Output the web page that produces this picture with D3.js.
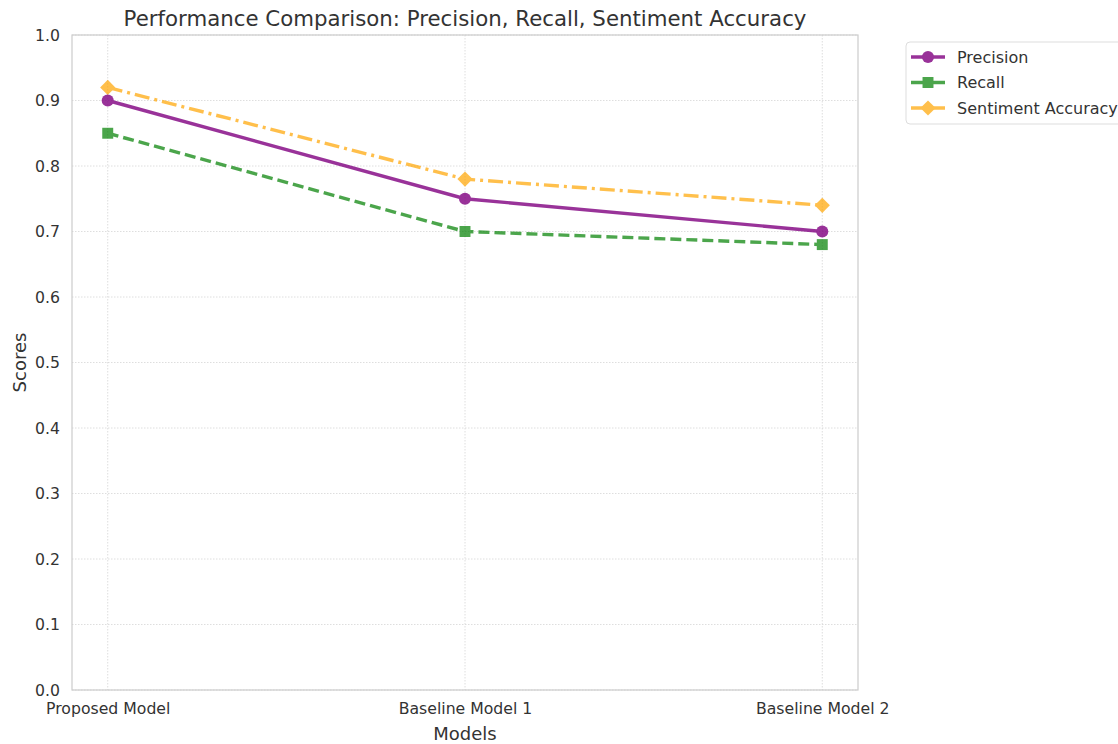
<!DOCTYPE html>
<html><head><meta charset="utf-8">
<script src="https://cdn.jsdelivr.net/npm/d3@7"></script>
<style>body{margin:0;background:#fff;} text{font-family:"DejaVu Sans",sans-serif;}</style>
</head><body>
<svg id="c" width="1118" height="744"></svg>
<script>
const categories = ["Proposed Model", "Baseline Model 1", "Baseline Model 2"];
const precision = [0.90, 0.75, 0.70];
const recall = [0.85, 0.70, 0.68];
const sentiment = [0.92, 0.78, 0.74];
const yTicks = [0.0, 0.1, 0.2, 0.3, 0.4, 0.5, 0.6, 0.7, 0.8, 0.9, 1.0];
const seriesNames = ["Precision", "Recall", "Sentiment Accuracy"];

const svg = d3.select("#c");
const L = 72, R = 858, T = 35, B = 690;
const x = d3.scaleLinear().domain([-0.1, 2.1]).range([L, R]);
const y = d3.scaleLinear().domain([0, 1]).range([B, T]);

// grid
const g = svg.append("g");
g.selectAll(".hg").data(yTicks).enter().append("line")
  .attr("x1", L).attr("x2", R).attr("y1", d => y(d)).attr("y2", d => y(d))
  .attr("stroke", "#d6d6d6").attr("stroke-width", 0.8).attr("stroke-dasharray", "1.5,1.5");
g.selectAll(".vg").data(categories).enter().append("line")
  .attr("y1", T).attr("y2", B).attr("x1", (d, i) => x(i)).attr("x2", (d, i) => x(i))
  .attr("stroke", "#d6d6d6").attr("stroke-width", 0.8).attr("stroke-dasharray", "1.5,1.5");

// axes
const yAxis = d3.axisLeft(y).tickValues(yTicks).tickFormat(d3.format(".1f")).tickSize(0).tickPadding(12);
const ya = svg.append("g").attr("transform", `translate(${L},0)`).call(yAxis);
const xAxis = d3.axisBottom(x).tickValues([0, 1, 2]).tickFormat(i => categories[i]).tickSize(0).tickPadding(13);
const xa = svg.append("g").attr("transform", `translate(0,${B})`).call(xAxis);
[ya, xa].forEach(a => {
  a.select(".domain").remove();
  a.selectAll("text").attr("font-size", 15.7).attr("fill", "#333").attr("font-family", "DejaVu Sans");
});

// frame
svg.append("rect").attr("x", L).attr("y", T).attr("width", R - L).attr("height", B - T)
  .attr("fill", "none").attr("stroke", "#cccccc").attr("stroke-width", 1.2);

const diamond = {draw(ctx, size) { const s = Math.sqrt(size) / 2 * 1.45; ctx.moveTo(0, -s); ctx.lineTo(s, 0); ctx.lineTo(0, s); ctx.lineTo(-s, 0); ctx.closePath(); }};
const series = [
  {name: seriesNames[0], vals: precision, color: "#800080", op: 0.8, dash: null, shape: d3.symbolCircle, size: 115},
  {name: seriesNames[1], vals: recall, color: "#008000", op: 0.7, dash: "11,5", shape: d3.symbolSquare, size: 120},
  {name: seriesNames[2], vals: sentiment, color: "#FFA500", op: 0.7, dash: "15,5,3,5", shape: diamond, size: 110}
];
const line = d3.line().x((d, i) => x(i)).y(d => y(d));

series.slice().reverse().forEach(s => {
  const gg = svg.append("g").attr("opacity", s.op);
  gg.append("path").datum(s.vals).attr("d", line).attr("fill", "none")
    .attr("stroke", s.color).attr("stroke-width", 3.4)
    .attr("stroke-dasharray", s.dash);
  gg.selectAll("path.m").data(s.vals).enter().append("path").attr("class", "m")
    .attr("d", d3.symbol().type(s.shape).size(s.size))
    .attr("transform", (d, i) => `translate(${x(i)},${y(d)})`)
    .attr("fill", s.color);
});

// title & labels
svg.append("text").attr("x", (L + R) / 2).attr("y", 26).attr("text-anchor", "middle")
  .attr("font-size", 21.3).attr("fill", "#333").text("Performance Comparison: Precision, Recall, Sentiment Accuracy");
svg.append("text").attr("x", (L + R) / 2).attr("y", 740).attr("text-anchor", "middle")
  .attr("font-size", 18).attr("fill", "#333").text("Models");
svg.append("text").attr("transform", `translate(26,${(T + B) / 2}) rotate(-90)`).attr("text-anchor", "middle")
  .attr("font-size", 18).attr("fill", "#333").text("Scores");

// legend
const lg = svg.append("g");
lg.append("rect").attr("x", 906).attr("y", 42).attr("width", 240).attr("height", 82).attr("rx", 4)
  .attr("fill", "#fff").attr("stroke", "#dddddd").attr("stroke-width", 1);
series.forEach((s, i) => {
  const yy = 57 + i * 25.5;
  const e = lg.append("g").attr("opacity", s.op);
  e.append("line").attr("x1", 911).attr("x2", 945).attr("y1", yy).attr("y2", yy)
    .attr("stroke", s.color).attr("stroke-width", 3.4);
  e.append("path").attr("d", d3.symbol().type(s.shape).size(s.size)).attr("transform", `translate(928,${yy})`).attr("fill", s.color);
  lg.append("text").attr("x", 957).attr("y", yy + 5.5).attr("font-size", 16).attr("fill", "#333").text(s.name);
});
</script>
</body></html>
